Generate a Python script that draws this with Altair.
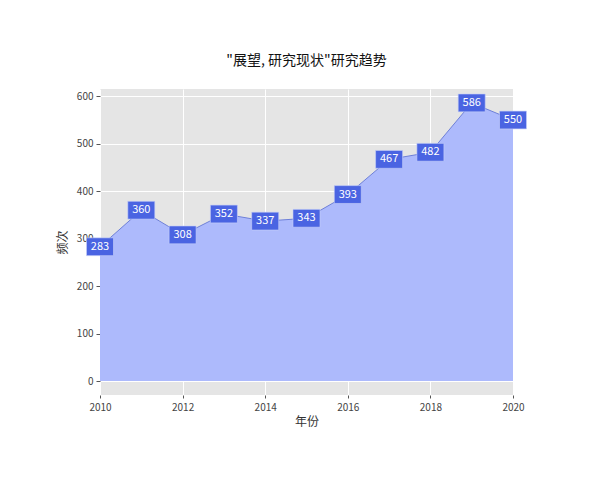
import altair as alt
import pandas as pd

years = [2010, 2011, 2012, 2013, 2014, 2015, 2016, 2017, 2018, 2019, 2020]
counts = [283, 360, 308, 352, 337, 343, 393, 467, 482, 586, 550]
x_ticks = [2010, 2012, 2014, 2016, 2018, 2020]
y_ticks = [0, 100, 200, 300, 400, 500, 600]

df = pd.DataFrame({"year": years, "count": counts})

FONT = "Noto Sans CJK SC"

x_enc = alt.X(
    "year:Q",
    title="年份",
    scale=alt.Scale(domain=[2010, 2020], nice=False, zero=False),
    axis=alt.Axis(values=x_ticks, format="d", grid=True, gridColor="white",
                  gridWidth=1, domain=False, tickSize=3, tickColor="#555",
                  labelPadding=4, labelFontSize=10, labelColor="#444",
                  labelFlush=False, labelOverlap=False,
                  titleFontSize=12, titleColor="#333", titleFontWeight="normal",
                  titlePadding=4, labelFont=FONT, titleFont=FONT),
)
y_scale = alt.Scale(domain=[-29.3, 615.3], nice=False, zero=False)
y_enc = alt.Y(
    "count:Q",
    title="频次",
    scale=y_scale,
    axis=alt.Axis(values=y_ticks, grid=True, gridColor="white", gridWidth=1,
                  domain=False, tickSize=4, tickColor="#555", labelPadding=3,
                  labelFontSize=10, labelColor="#444", titleFontSize=12,
                  titleColor="#333", titleFontWeight="normal", titlePadding=7,
                  labelFont=FONT, titleFont=FONT),
)

area = alt.Chart(df).mark_area(color="#adbafc", opacity=1,
                               line={"color": "#6e80d8", "strokeWidth": 1}).encode(
    x=x_enc, y=y_enc, y2=alt.datum(0)
)

boxes = alt.Chart(df).mark_point(
    shape="M-1,-0.66L1,-0.66L1,0.66L-1,0.66Z", size=729, filled=True,
    fill="#4a64e2", opacity=1, stroke="#c8d0f8", strokeWidth=0.6, clip=False
).encode(x="year:Q", y="count:Q")

labels = alt.Chart(df).mark_text(
    color="white", fontSize=11, font=FONT, align="center", baseline="middle",
    clip=False
).encode(x="year:Q", y="count:Q", text="count:Q")

chart = (area + boxes + labels).properties(
    width=413, height=306,
    title=alt.TitleParams('"展望, 研究现状"研究趋势', fontSize=14, font=FONT,
                          fontWeight="normal", color="#111", anchor="middle",
                          offset=21),
    padding={"left": 92, "top": 81, "right": 70, "bottom": 60},
    autosize=alt.AutoSizeParams(type="none"),
).configure(background="white").configure_view(fill="#e5e5e5", stroke=None)

chart.save("out.html", embed_options={"renderer": "svg", "actions": False})
